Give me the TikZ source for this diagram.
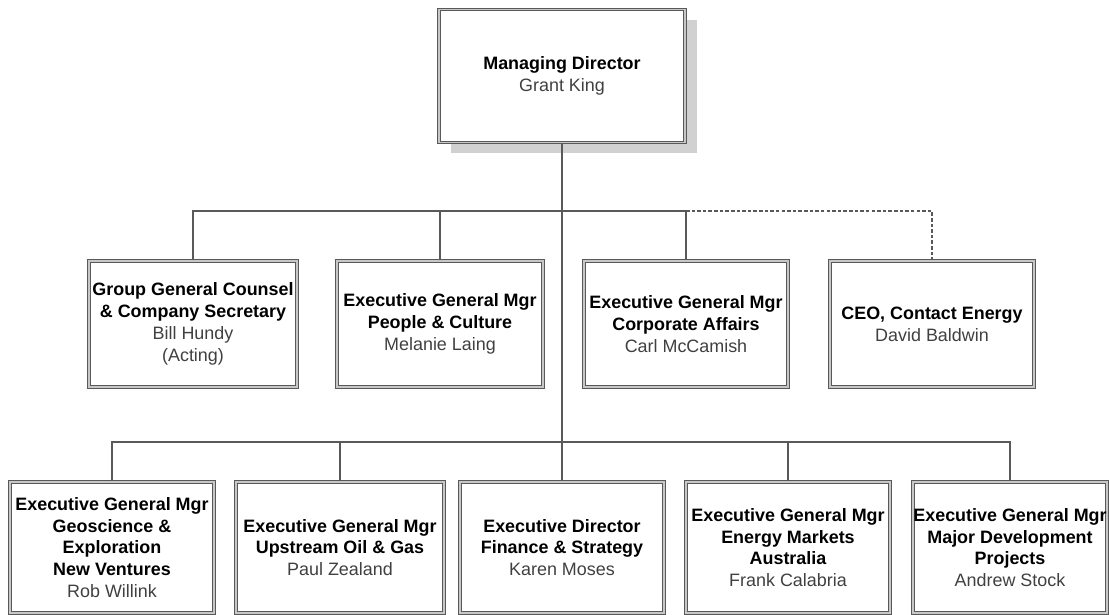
\documentclass[tikz,border=0pt]{standalone}
\usepackage{fontspec}
\setmainfont{Liberation Sans}
\newcommand{\who}[1]{{\mdseries\color{black!75}#1}}
\begin{document}
\begin{tikzpicture}[x=0.02cm,y=-0.02cm,
    box/.style={draw=black!65,line width=0.6pt,double=black!22,double distance=0.9pt,
        fill=white,align=center,inner sep=0pt,minimum height=126*0.02cm,
        font=\fontsize{10.2}{12.4}\selectfont\bfseries},
    tallbox/.style={box,minimum height=131*0.02cm},
    link/.style={draw=black!65,line width=1pt},
    reports/.style={link,dashed,dash pattern=on 2pt off 1.2pt}]
    \useasboundingbox (0,0) rectangle (1109,615);
    % managing director, with its shadow
    \fill[black!18] (451,20) rectangle (697,153);
    \node[box,minimum width=246*0.02cm,minimum height=133*0.02cm] (md) at (562,76)
        {Managing Director\\\who{Grant King}};
    % first row
    \node[box,minimum width=208*0.02cm] (counsel) at (193,324)
        {Group General Counsel\\\& Company Secretary\\\who{Bill Hundy}\\\who{(Acting)}};
    \node[box,minimum width=206*0.02cm] (people) at (440,324)
        {Executive General Mgr\\People \& Culture\\\who{Melanie Laing}};
    \node[box,minimum width=204*0.02cm] (affairs) at (686,324)
        {Executive General Mgr\\Corporate Affairs\\\who{Carl McCamish}};
    \node[box,minimum width=204*0.02cm] (contact) at (932,324)
        {CEO, Contact Energy\\\who{David Baldwin}};
    % second row
    \node[tallbox,minimum width=204*0.02cm] (geo) at (112,547.5)
        {Executive General Mgr\\Geoscience \&\\Exploration\\New Ventures\\\who{Rob Willink}};
    \node[tallbox,minimum width=208*0.02cm] (upstream) at (340,547.5)
        {Executive General Mgr\\Upstream Oil \& Gas\\\who{Paul Zealand}};
    \node[tallbox,minimum width=204*0.02cm] (finance) at (562,547.5)
        {Executive Director\\Finance \& Strategy\\\who{Karen Moses}};
    \node[tallbox,minimum width=204*0.02cm] (markets) at (788,547.5)
        {Executive General Mgr\\Energy Markets\\Australia\\\who{Frank Calabria}};
    \node[tallbox,minimum width=194*0.02cm] (major) at (1010,547.5)
        {Executive General Mgr\\Major Development\\Projects\\\who{Andrew Stock}};
    % reporting lines
    \coordinate (bus1) at (0,211);
    \coordinate (bus2) at (0,442);
    \draw[link] (md.south) -- (finance.north);
    \draw[link] (counsel.north) |- (affairs.north |- bus1) -- (affairs.north);
    \draw[link] (people.north) -- (people.north |- bus1);
    \draw[reports] (affairs.north |- bus1) -| (contact.north);
    \draw[link] (geo.north) |- (major.north |- bus2) -- (major.north);
    \draw[link] (upstream.north) -- (upstream.north |- bus2);
    \draw[link] (markets.north) -- (markets.north |- bus2);
\end{tikzpicture}
\end{document}
